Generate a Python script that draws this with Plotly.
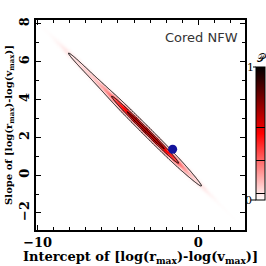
import numpy as np
import plotly.graph_objects as go

# ---- data ----
# ridge components of the posterior density (intercept, slope, relative height)
comp_x = [-9.6, -8.6, -8.0, -7.2, -6.4, -5.6, -4.8, -4.0, -3.2, -2.4, -1.6, -0.8, 0.0, 0.8, 1.6]
comp_y = [7.745, 6.895, 6.385, 5.705, 5.025, 4.345, 3.665, 2.985, 2.305, 1.625, 0.945, 0.265, -0.415, -1.095, -1.775]
comp_amp = [0.005, 0.01, 0.08, 0.12, 0.15, 0.30, 0.70, 0.90, 1.00, 0.90, 0.60, 0.20, 0.08, 0.01, 0.005]
comp_width = [1.4, 1.5, 1.9, 1.9, 1.9, 1.8, 1.9, 1.9, 1.9, 1.9, 1.9, 1.9, 1.7, 1.4, 1.2]
best_x = [-1.6]
best_y = [1.37]
x_ticks = [-10, 0]
y_ticks = [-2, 0, 2, 4, 6, 8]
x_range = [-10.1, 2.9]
y_range = [-2.9, 8.2]
cbar_ticks = ["0", "1"]
panel_label = "Cored NFW"
peak_level = 0.68

# ---- layout constants ----
W, H = 266, 266
ML, MR, MT, MB = 36, 21, 20, 36
PW, PH = W - ML - MR, H - MT - MB
sx = PW / (x_range[1] - x_range[0])
sy = PH / (y_range[1] - y_range[0])

# ---- density field built from the ridge components ----
xg = np.linspace(x_range[0], x_range[1], 400)
yg = np.linspace(y_range[0], y_range[1], 400)
X, Y = np.meshgrid(xg, yg)
ux = (comp_x[-1] - comp_x[0]) * sx
uy = (comp_y[-1] - comp_y[0]) * sy
n = np.hypot(ux, uy)
ux, uy = ux / n, uy / n
sig_along = 12.0
Z = np.zeros_like(X)
for cx, cy, a, w in zip(comp_x, comp_y, comp_amp, comp_width):
    DX = (X - cx) * sx
    DY = (Y - cy) * sy
    s = DX * ux + DY * uy
    d = -DX * uy + DY * ux
    Z += a * np.exp(-s**2 / (2 * sig_along**2) - d**2 / (2 * w**2))
Z = Z / Z.max() * peak_level

serif = "DejaVu Serif"

fig = go.Figure()
fig.add_trace(go.Contour(
    x=xg, y=yg, z=Z,
    colorscale=[[0, "white"], [0.5, "red"], [1, "black"]],
    zmin=0, zmax=1,
    contours=dict(start=0.05, end=0.55, size=0.25, coloring="heatmap"),
    line=dict(color="black", width=1),
    colorbar=dict(
        x=(256 - ML) / PW, xanchor="left", xpad=0, ypad=0,
        y=(MT + PH - (67 + 200) / 2) / PH, yanchor="middle",
        len=(200 - 67) / PH, lenmode="fraction",
        thickness=9, outlinewidth=1, outlinecolor="black",
        showticklabels=False, ticks="",
    ),
    hoverinfo="skip",
))
fig.add_trace(go.Scatter(
    x=best_x, y=best_y, mode="markers",
    marker=dict(size=9, color="#14149c"),
    showlegend=False, hoverinfo="skip",
))

axis_common = dict(
    showline=True, linecolor="black", linewidth=1.5, mirror="allticks",
    ticks="inside", ticklen=5, tickwidth=1, tickcolor="black",
    showgrid=False, zeroline=False,
    tickfont=dict(family=serif, size=13, color="black", weight="bold"),
    minor=dict(ticks="inside", ticklen=3, tickwidth=1, tickcolor="black", dtick=1, showgrid=False),
)
fig.update_xaxes(
    range=x_range, tickvals=x_ticks, **axis_common,
    title=dict(text="Intercept of [log(r<sub>max</sub>)-log(v<sub>max</sub>)]",
               font=dict(family=serif, size=13, color="black", weight="bold"), standoff=4),
)
fig.update_yaxes(
    range=y_range, tickvals=y_ticks, tickangle=-90, **axis_common,
    title=dict(text="Slope of [log(r<sub>max</sub>)-log(v<sub>max</sub>)]",
               font=dict(family=serif, size=10, color="black", weight="bold"), standoff=3),
)

def px_x(p):
    return (p - ML) / PW

def px_y(p):
    return (MT + PH - p) / PH

def label(text, x, y, size, family, color="black"):
    return dict(text=text, x=px_x(x), y=px_y(y), xref="paper", yref="paper",
                xanchor="center", yanchor="middle", showarrow=False,
                font=dict(family=family, size=size, color=color))

fig.update_layout(
    width=W, height=H,
    margin=dict(l=ML, r=MR, t=MT, b=MB, autoexpand=False),
    paper_bgcolor="white", plot_bgcolor="white",
    showlegend=False,
    annotations=[
        label(panel_label, 201, 37, 13, "DejaVu Sans", "#333"),
        label(cbar_ticks[1], 250, 67, 11, serif),
        label(cbar_ticks[0], 248, 200, 11, serif),
        label("𝒫", 262, 58, 11, serif),
    ],
    shapes=[
        dict(type="line", xref="paper", yref="paper", x0=px_x(253), x1=px_x(256),
             y0=px_y(67), y1=px_y(67), line=dict(color="black", width=1)),
        dict(type="line", xref="paper", yref="paper", x0=px_x(251), x1=px_x(256),
             y0=px_y(200), y1=px_y(200), line=dict(color="black", width=1)),
    ],
)

fig.write_html("out.html", config={"displayModeBar": False},
               post_script="document.body.style.margin='0';document.body.style.overflow='hidden';")
